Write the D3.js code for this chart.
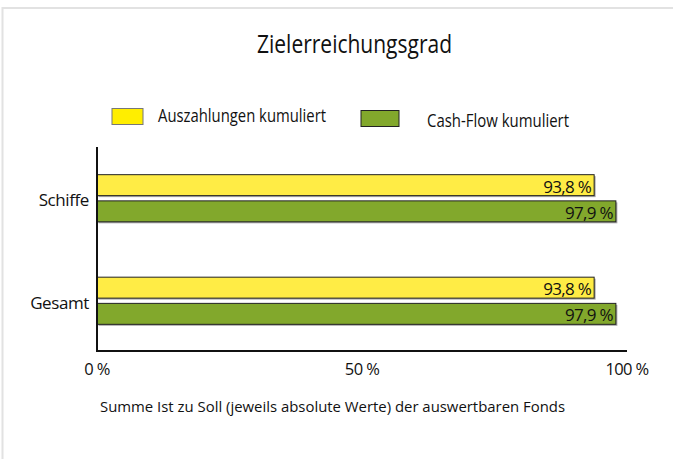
<!DOCTYPE html>
<html>
<head>
<meta charset="utf-8">
<script src="https://cdn.jsdelivr.net/npm/d3@7"></script>
<style>
    body { margin: 0; background: #fff; }
    text { font-family: "Open Sans", "Noto Sans", sans-serif; fill: #111; }
</style>
</head>
<body>
<svg id="chart"></svg>
<script>
const categories = ['Schiffe', 'Gesamt']
const seriesNames = ['Auszahlungen kumuliert', 'Cash-Flow kumuliert']
const auszahlungen = [93.8, 93.8]
const cashFlow = [97.9, 97.9]
const xTicks = [0, 50, 100]

class Barchart {

    constructor(_config) {
        this.config = {
            parentElement: _config.parentElement,
            containerWidth: _config.containerWidth || 673,
            containerHeight: _config.containerHeight || 459,
            margin: _config.margin || {top: 147, right: 46, bottom: 107, left: 97},
        }
        this.initVis()
    }

    initVis() {
        let vis = this

        vis.width = vis.config.containerWidth - vis.config.margin.left - vis.config.margin.right
        vis.height = vis.config.containerHeight - vis.config.margin.top - vis.config.margin.bottom

        vis.colors = d3.scaleOrdinal()
            .domain(seriesNames)
            .range(['#ffec45', '#82a82c'])

        vis.xScale = d3.scaleLinear()
            .domain([0, 100])
            .range([0, 530])

        vis.yScale = d3.scaleBand()
            .domain(categories)
            .range([0, vis.height])
            .paddingInner(0.54)
            .paddingOuter(0.27)

        vis.subScale = d3.scaleBand()
            .domain(seriesNames)
            .range([0, vis.yScale.bandwidth()])
            .paddingInner(0.2)

        vis.svg = d3.select(vis.config.parentElement)
            .attr('width', vis.config.containerWidth)
            .attr('height', vis.config.containerHeight)

        // light frame (top + left only)
        vis.svg.append('path')
            .attr('d', `M2.5,${vis.config.containerHeight} V8 H${vis.config.containerWidth}`)
            .attr('fill', 'none')
            .attr('stroke', '#e2e2e2')
            .attr('stroke-width', 2)

        vis.svg.append('text')
            .attr('x', 257)
            .attr('y', 53)
            .attr('textLength', 195)
            .attr('lengthAdjust', 'spacingAndGlyphs')
            .style('font-size', '26px')
            .text('Zielerreichungsgrad')

        // legend
        const legend = [
            {name: seriesNames[0], x: 112, y: 108.5, w: 31, h: 16, fill: '#ffee00', stroke: '#777', tx: 158, tl: 168},
            {name: seriesNames[1], x: 361, y: 110.5, w: 38, h: 16, fill: '#82a82c', stroke: '#222', tx: 427, tl: 142},
        ]
        const lg = vis.svg.selectAll('.legend').data(legend).join('g').attr('class', 'legend')
        lg.append('rect')
            .attr('x', d => d.x).attr('y', d => d.y)
            .attr('width', d => d.w).attr('height', d => d.h)
            .attr('fill', d => d.fill)
            .attr('stroke', d => d.stroke)
        lg.append('text')
            .attr('x', d => d.tx)
            .attr('y', (d, i) => i ? 127 : 122)
            .attr('textLength', d => d.tl)
            .attr('lengthAdjust', 'spacingAndGlyphs')
            .style('font-size', '17.5px')
            .text(d => d.name)

        vis.chart = vis.svg.append('g')
            .attr('transform', `translate(${vis.config.margin.left},${vis.config.margin.top})`)

        vis.renderVis()
    }

    renderVis() {
        let vis = this

        const rows = categories.map((c, i) => ({
            cat: c,
            values: [
                {series: seriesNames[0], value: auszahlungen[i]},
                {series: seriesNames[1], value: cashFlow[i]},
            ]
        }))

        const group = vis.chart.selectAll('.group')
            .data(rows)
            .join('g')
            .attr('class', 'group')
            .attr('transform', d => `translate(0,${vis.yScale(d.cat)})`)

        const bar = group.selectAll('.bar')
            .data(d => d.values)
            .join('g')
            .attr('class', 'bar')

        // drop shadow
        bar.append('rect')
            .attr('x', 1.5)
            .attr('y', d => vis.subScale(d.series) + 1.5)
            .attr('width', d => vis.xScale(d.value))
            .attr('height', vis.subScale.bandwidth())
            .attr('fill', '#a8a8a8')

        bar.append('rect')
            .attr('x', 0)
            .attr('y', d => vis.subScale(d.series))
            .attr('width', d => vis.xScale(d.value))
            .attr('height', vis.subScale.bandwidth())
            .attr('fill', d => vis.colors(d.series))
            .attr('stroke', '#222')
            .attr('stroke-width', 1)

        bar.append('text')
            .attr('x', d => vis.xScale(d.value) - 3)
            .attr('y', d => vis.subScale(d.series) + vis.subScale.bandwidth() - 3)
            .attr('text-anchor', 'end')
            .style('font-size', '17px')
            .style('letter-spacing', '-0.7px')
            .text(d => String(d.value.toFixed(1)).replace('.', ',') + ' %')

        // category labels
        vis.chart.selectAll('.cat-label')
            .data(categories)
            .join('text')
            .attr('class', 'cat-label')
            .attr('x', -8)
            .attr('y', d => vis.yScale(d) + vis.yScale.bandwidth() / 2 + 8)
            .attr('text-anchor', 'end')
            .style('font-size', '17px')
            .style('letter-spacing', '-0.4px')
            .text(d => d)

        // axes
        vis.chart.append('line')
            .attr('x1', 0).attr('x2', 0)
            .attr('y1', 0).attr('y2', vis.height)
            .attr('stroke', '#111').attr('stroke-width', 2)

        vis.chart.append('line')
            .attr('x1', 0).attr('x2', vis.xScale(100))
            .attr('y1', vis.height - 1).attr('y2', vis.height - 1)
            .attr('stroke', '#111').attr('stroke-width', 2)

        vis.chart.selectAll('.tick-label')
            .data(xTicks)
            .join('text')
            .attr('class', 'tick-label')
            .attr('x', d => vis.xScale(d))
            .attr('y', vis.height + 23)
            .attr('text-anchor', 'middle')
            .style('font-size', '16.5px')
            .style('letter-spacing', '-0.6px')
            .text(d => d + ' %')

        vis.svg.append('text')
            .attr('x', 100)
            .attr('y', 412)
            .attr('textLength', 465)
            .attr('lengthAdjust', 'spacingAndGlyphs')
            .style('font-size', '14.5px')
            .text('Summe Ist zu Soll (jeweils absolute Werte) der auswertbaren Fonds')
    }
}

new Barchart({parentElement: '#chart'})
</script>
</body>
</html>
